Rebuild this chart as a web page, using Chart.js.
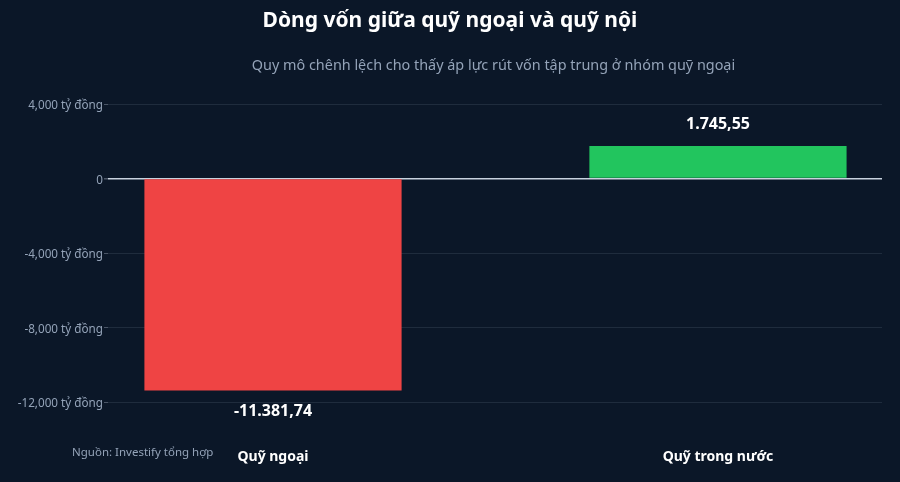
<!DOCTYPE html>
<html>
<head>
<meta charset="utf-8">
<script src="https://cdn.jsdelivr.net/npm/chart.js@4/dist/chart.umd.min.js"></script>
<style>
html,body{margin:0;padding:0;background:#0b1728;}
#wrap{position:relative;width:900px;height:482px;}
canvas{display:block;}
</style>
</head>
<body>
<div id="wrap"><canvas id="c" width="900" height="482"></canvas></div>
<script>
const categories = ["Quỹ ngoại", "Quỹ trong nước"];
const values = [-11381.74, 1745.55];
const valueLabels = ["-11.381,74", "1.745,55"];
const barColors = ["#ef4444", "#22c55e"];
const yTicks = [4000, 0, -4000, -8000, -12000];
const titleText = "Dòng vốn giữa quỹ ngoại và quỹ nội";
const subtitleText = "Quy mô chênh lệch cho thấy áp lực rút vốn tập trung ở nhóm quỹ ngoại";
const sourceText = "Nguồn: Investify tổng hợp";

const FONT = "'Noto Sans', 'Open Sans', sans-serif";

const textPlugin = {
  id: 'texts',
  beforeDraw(chart) {
    const ctx = chart.ctx;
    ctx.save();
    ctx.fillStyle = '#0b1728';
    ctx.fillRect(0, 0, chart.width, chart.height);
    ctx.restore();
  },
  afterDraw(chart) {
    const ctx = chart.ctx;
    ctx.save();
    ctx.textAlign = 'center';
    ctx.textBaseline = 'alphabetic';
    ctx.fillStyle = '#ffffff';
    ctx.font = "bold 21px " + FONT;
    ctx.fillText(titleText, 450, 27);
    ctx.fillStyle = '#94a3b8';
    ctx.font = "14.4px " + FONT;
    ctx.fillText(subtitleText, 493.5, 70);
    ctx.textAlign = 'left';
    ctx.font = "11.5px " + FONT;
    ctx.fillText(sourceText, 72, 456);
    // value labels
    const meta = chart.getDatasetMeta(0);
    ctx.textAlign = 'center';
    ctx.textBaseline = 'middle';
    ctx.fillStyle = '#ffffff';
    ctx.font = "bold 16px " + FONT;
    meta.data.forEach((bar, i) => {
      const v = values[i];
      const y = v < 0 ? bar.y + 21 : bar.y - 22;
      ctx.fillText(valueLabels[i], bar.x, y);
    });
    ctx.restore();
  }
};

new Chart(document.getElementById('c'), {
  type: 'bar',
  data: {
    datasets: [{
      data: values.map((v, i) => ({ x: i, y: v })),
      backgroundColor: barColors,
      borderWidth: 0,
      barPercentage: 0.578,
      categoryPercentage: 1
    }]
  },
  options: {
    responsive: false,
    animation: false,
    devicePixelRatio: 1,
    layout: { padding: { top: 104, right: 18, left: 0, bottom: 0 } },
    plugins: {
      legend: { display: false },
      title: { display: false },
      tooltip: { enabled: false }
    },
    scales: {
      x: {
        type: 'linear',
        offset: false,
        min: -0.3708,
        max: 1.3686,
        afterBuildTicks(scale) { scale.ticks = categories.map((c, i) => ({ value: i })); },
        afterFit(scale) { scale.height = 80; },
        grid: { display: false, drawTicks: false },
        border: { display: false },
        ticks: {
          padding: 47,
          color: '#ffffff',
          font: { family: FONT, size: 14, weight: 'bold' },
          callback: (v) => categories[v]
        }
      },
      y: {
        min: -12000,
        max: 4000,
        afterBuildTicks(scale) { scale.ticks = yTicks.map(v => ({ value: v })); },
        afterFit(scale) { scale.width = 108; },
        border: { display: false },
        grid: {
          color: (ctx) => ctx.tick && ctx.tick.value === 0 ? '#c8d2de' : '#1f2c3d',
          lineWidth: (ctx) => ctx.tick && ctx.tick.value === 0 ? 1.5 : 1,
          tickLength: 4,
          tickColor: '#4a5566'
        },
        ticks: {
          padding: 1,
          labelOffset: 2,
          color: '#94a3b8',
          font: { family: FONT, size: 11.7 },
          callback: (v) => v === 0 ? '0' : v.toLocaleString('en-US') + ' tỷ đồng'
        }
      }
    }
  },
  plugins: [textPlugin]
});
</script>
</body>
</html>
